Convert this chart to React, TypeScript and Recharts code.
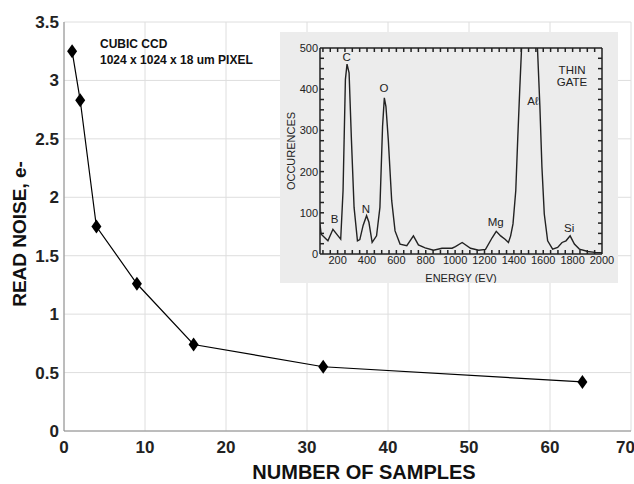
import React from "react";
import {
  LineChart,
  Line,
  XAxis,
  YAxis,
  CartesianGrid,
  ReferenceDot,
} from "recharts";

// read noise vs number of samples (main plot)
const samples = [1, 2, 4, 9, 16, 32, 64];
const readNoise = [3.25, 2.83, 1.75, 1.26, 0.74, 0.55, 0.42];
const xTicks = [0, 10, 20, 30, 40, 50, 60, 70];
const yTicks = [0, 0.5, 1, 1.5, 2, 2.5, 3, 3.5];

// inset spectrum (thin gate)
const energies = [
  80, 88, 134, 168, 203, 221, 237, 253, 264, 278, 294, 312, 335, 351, 374, 397,
  413, 435, 465, 488, 506, 518, 529, 545, 568, 591, 625, 671, 716, 750, 796, 853,
  911, 979, 1002, 1048, 1105, 1161, 1207, 1253, 1280, 1310, 1340, 1363, 1378,
  1394, 1413, 1426, 1440, 1452, 1480, 1510, 1540, 1561, 1577, 1591, 1607, 1630,
  1664, 1698, 1728, 1755, 1783, 1812, 1846, 1904, 1950, 2000,
];
const counts = [
  72, 48, 32, 60, 44, 36, 154, 424, 461, 440, 277, 113, 32, 35, 70, 93,
  77, 28, 44, 113, 310, 379, 358, 277, 130, 56, 24, 20, 44, 22, 15, 9,
  14, 14, 18, 28, 14, 9, 11, 40, 55, 44, 36, 28, 44,
  73, 154, 277, 400, 497, 620, 650, 600, 497, 359, 211, 97, 32,
  12, 16, 28, 32, 44, 24, 12, 6, 4, 3,
];
const energyTicks = [200, 400, 600, 800, 1000, 1200, 1400, 1600, 1800, 2000];
const countTicks = [0, 100, 200, 300, 400, 500];
const energyMinor = [
  100, 150, 200, 250, 300, 350, 400, 450, 500, 550, 600, 650, 700, 750, 800, 850,
  900, 950, 1000, 1050, 1100, 1150, 1200, 1250, 1300, 1350, 1400, 1450, 1500,
  1550, 1600, 1650, 1700, 1750, 1800, 1850, 1900, 1950,
];
const countMinor = [
  25, 50, 75, 100, 125, 150, 175, 200, 225, 250, 275, 300, 325, 350, 375, 400,
  425, 450, 475,
];
const peakLabels = [
  { name: "B", ev: 180, n: 86 },
  { name: "C", ev: 262, n: 478 },
  { name: "N", ev: 392, n: 110 },
  { name: "O", ev: 515, n: 402 },
  { name: "Mg", ev: 1276, n: 78 },
  { name: "A\u2113", ev: 1529, n: 372 },
  { name: "Si", ev: 1776, n: 64 },
  { name: "THIN", ev: 1796, n: 448 },
  { name: "GATE", ev: 1796, n: 418 },
];

const noiseData = samples.map((s, i) => ({ s, noise: readNoise[i] }));
const spectrum = energies.map((ev, i) => ({ ev, n: counts[i] }));

const bold = "'Liberation Sans Narrow', 'Liberation Sans', Arial, sans-serif";
const plain = "'Liberation Sans', Arial, sans-serif";

function Diamond(props: any) {
  const { cx, cy } = props;
  if (cx == null || cy == null) return null;
  return (
    <polygon
      points={`${cx},${cy - 7} ${cx + 5},${cy} ${cx},${cy + 7} ${cx - 5},${cy}`}
      fill="#000"
    />
  );
}

function SpectrumInset() {
  const tickStyle = { fontFamily: plain, fontSize: 11, fill: "#222" };
  const labelStyle = { fontFamily: plain, fontSize: 11, fill: "#222" };
  const blank = () => "";
  return (
    <div
      style={{
        position: "absolute",
        left: 280,
        top: 32,
        width: 338,
        height: 251,
        background: "#ececec",
      }}
    >
      <LineChart
        width={338}
        height={251}
        data={spectrum}
        margin={{ top: 16, right: 16, left: 0, bottom: 0 }}
      >
        {/* minor tick axes go first so they sit on the frame */}
        <XAxis
          xAxisId="bm"
          dataKey="ev"
          type="number"
          domain={[80, 2000]}
          ticks={energyMinor}
          allowDataOverflow
          height={1}
          mirror
          stroke="#222"
          strokeWidth={1.5}
          tickSize={4}
          tickFormatter={blank}
        />
        <XAxis
          xAxisId="b"
          dataKey="ev"
          type="number"
          domain={[80, 2000]}
          ticks={energyTicks}
          allowDataOverflow
          height={29}
          axisLine={false}
          tickLine={false}
          tickSize={0}
          tickMargin={2}
          tick={tickStyle}
          label={{
            value: "ENERGY (EV)",
            position: "insideBottom",
            offset: 1,
            style: labelStyle,
          }}
        />
        <XAxis
          xAxisId="t"
          dataKey="ev"
          type="number"
          orientation="top"
          domain={[80, 2000]}
          ticks={energyMinor}
          allowDataOverflow
          height={1}
          mirror
          stroke="#222"
          strokeWidth={1.5}
          tickSize={4}
          tickFormatter={blank}
        />
        <YAxis
          yAxisId="lm"
          domain={[0, 500]}
          ticks={countMinor}
          allowDataOverflow
          width={1}
          mirror
          stroke="#222"
          strokeWidth={1.5}
          tickSize={4}
          tickFormatter={blank}
        />
        <YAxis
          yAxisId="l"
          domain={[0, 500]}
          ticks={countTicks}
          allowDataOverflow
          width={40}
          axisLine={false}
          tickLine={false}
          tickSize={0}
          tickMargin={2}
          tick={tickStyle}
          label={{
            value: "OCCURENCES",
            angle: -90,
            position: "center",
            dx: -9,
            style: labelStyle,
          }}
        />
        <YAxis
          yAxisId="r"
          orientation="right"
          domain={[0, 500]}
          ticks={countMinor}
          allowDataOverflow
          width={1}
          mirror
          stroke="#222"
          strokeWidth={1.5}
          tickSize={4}
          tickFormatter={blank}
        />
        <Line
          xAxisId="b"
          yAxisId="l"
          dataKey="n"
          type="linear"
          stroke="#222"
          strokeWidth={1.4}
          dot={false}
          isAnimationActive={false}
        />
        {peakLabels.map((p) => (
          <ReferenceDot
            key={p.name}
            xAxisId="b"
            yAxisId="l"
            x={p.ev}
            y={p.n}
            r={0}
            stroke="none"
            fill="none"
            label={{
              value: p.name,
              position: "center",
              style: { fontFamily: plain, fontSize: 11.5, fill: "#222" },
            }}
          />
        ))}
      </LineChart>
    </div>
  );
}

export default function App() {
  const tickStyle = { fontFamily: bold, fontWeight: 700, fontSize: 17, fill: "#222" };
  return (
    <div
      style={{
        position: "absolute",
        left: 0,
        top: 0,
        width: 634,
        height: 484,
        background: "#fff",
        overflow: "hidden",
      }}
    >
      <LineChart
        width={634}
        height={484}
        data={noiseData}
        margin={{ top: 22, right: 3, left: 0, bottom: 0 }}
      >
        <CartesianGrid stroke="#dedede" />
        <XAxis
          dataKey="s"
          type="number"
          domain={[0, 70]}
          ticks={xTicks}
          height={53}
          stroke="#8a8a8a"
          tickLine={false}
          tickSize={0}
          tickMargin={10}
          tick={tickStyle}
          label={{
            content: () => (
              <text
                x={364}
                y={479}
                textAnchor="middle"
                style={{ fontFamily: bold, fontWeight: 700, fontSize: 20, fill: "#111" }}
              >
                NUMBER OF SAMPLES
              </text>
            ),
          }}
        />
        <YAxis
          domain={[0, 3.5]}
          ticks={yTicks}
          width={64}
          stroke="#8a8a8a"
          tickLine={false}
          tickSize={0}
          tickMargin={5}
          tick={tickStyle}
          label={{
            content: () => (
              <text
                x={26}
                y={234}
                transform="rotate(-90, 26, 234)"
                textAnchor="middle"
                style={{ fontFamily: plain, fontWeight: 700, fontSize: 19, fill: "#111" }}
              >
                READ NOISE, e-
              </text>
            ),
          }}
        />
        <Line
          dataKey="noise"
          type="linear"
          stroke="#000"
          strokeWidth={1.2}
          dot={<Diamond />}
          isAnimationActive={false}
        />
      </LineChart>
      <div
        style={{
          position: "absolute",
          left: 100,
          top: 36,
          fontFamily: plain,
          fontWeight: 700,
          fontSize: 12,
          lineHeight: "16px",
          color: "#111",
        }}
      >
        CUBIC CCD
        <br />
        1024 x 1024 x 18 um PIXEL
      </div>
      <SpectrumInset />
    </div>
  );
}
